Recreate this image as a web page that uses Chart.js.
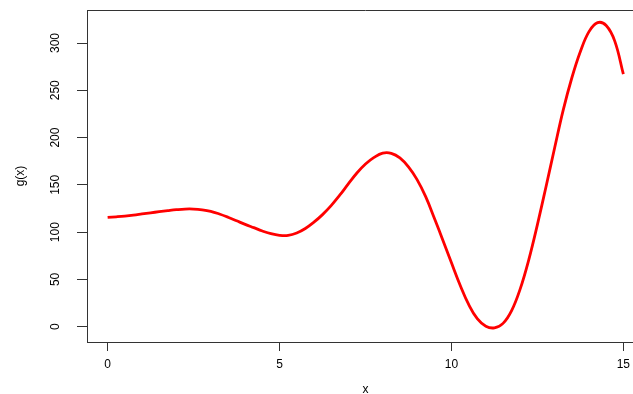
<!DOCTYPE html>
<html lang="en">
    <head>
        <meta charset="UTF-8">
        <title>g(x)</title>
        <script src="https://cdn.jsdelivr.net/npm/chart.js@4/dist/chart.umd.min.js"></script>
        <style>
            html, body { margin: 0; background: #fff; overflow: hidden; }
            #wrap { width: 633px; height: 394px; overflow: hidden; }
        </style>
    </head>
    <body>
        <div id="wrap"><canvas id="gChart" width="644" height="394"></canvas></div>

        <script>
            // values, every 0.25
            const xValues = [0, 0.25, 0.5, 0.75, 1, 1.25, 1.5, 1.75, 2, 2.25, 2.5, 2.75,
                             3, 3.25, 3.5, 3.75, 4, 4.25, 4.5, 4.75, 5, 5.25, 5.5, 5.75,
                             6, 6.25, 6.5, 6.75, 7, 7.25, 7.5, 7.75, 8, 8.25, 8.5, 8.75,
                             9, 9.25, 9.5, 9.75, 10, 10.25, 10.5, 10.75, 11, 11.25, 11.5, 11.75,
                             12, 12.25, 12.5, 12.75, 13, 13.25, 13.5, 13.75, 14, 14.25, 14.5, 14.75, 15];
            const gValues = [115.5, 116.2, 117, 118, 119.2, 120.4, 121.6, 122.7, 123.7, 124.4, 124.4, 123.6,
                             122, 119.2, 115.8, 112, 108.2, 104.7, 101.2, 98.3, 96.6, 96.5, 99, 103.8,
                             110.5, 118.5, 128, 139, 151, 162.5, 172, 179, 183.5, 183.3, 178.5, 169,
                             155.5, 137.5, 115, 91.5, 67.5, 44, 23.5, 8.5, 0.5, -1.2, 3.5, 17,
                             40, 71, 108, 148, 189, 229, 263, 291, 312, 321.5, 318.5, 302, 267];
            const xTicks = [0, 5, 10, 15];
            const yTicks = [0, 50, 100, 150, 200, 250, 300];

            const points = xValues.map((x, i) => ({x: x, y: gValues[i]}));
            const axisColor = "#333";
            const font = {family: "'Liberation Sans', Arial, sans-serif", size: 12};

            function noPadding(s) {
                s.paddingTop = 0;
                s.paddingBottom = 0;
                s.paddingLeft = 0;
                s.paddingRight = 0;
            }

            // R style box: top and right sides (left/bottom come from the axes)
            const boxPlugin = {
                id: "box",
                afterDraw(chart) {
                    const a = chart.chartArea;
                    const ctx = chart.ctx;
                    ctx.save();
                    ctx.strokeStyle = axisColor;
                    ctx.lineWidth = 1;
                    ctx.beginPath();
                    ctx.moveTo(a.left, Math.round(a.top) + 0.5);
                    ctx.lineTo(a.right, Math.round(a.top) + 0.5);
                    ctx.lineTo(a.right, a.bottom);
                    ctx.stroke();
                    ctx.restore();
                }
            };

            new Chart("gChart", {
                type: "line",
                data: {
                    datasets: [{
                        data: points,
                        borderColor: "#ff0000",
                        borderWidth: 2.8,
                        pointRadius: 0,
                        fill: false,
                        tension: 0.4
                    }]
                },
                options: {
                    responsive: false,
                    animation: false,
                    layout: {padding: {top: 10, right: 0, left: 0, bottom: 0}},
                    plugins: {legend: {display: false}, tooltip: {enabled: false}},
                    scales: {
                        x: {
                            type: "linear",
                            min: -0.6,
                            max: 15.6,
                            afterFit: s => { s.height = 52; noPadding(s); },
                            afterBuildTicks: s => { s.ticks = xTicks.map(v => ({value: v})); },
                            grid: {drawOnChartArea: false, drawTicks: true, tickLength: 9, color: axisColor},
                            border: {display: true, color: axisColor, width: 1},
                            ticks: {color: "#000", font: font, padding: 6, maxRotation: 0, minRotation: 0},
                            title: {display: true, text: "x", color: "#000", font: {family: font.family, size: 12, lineHeight: 0.73}, padding: 0}
                        },
                        y: {
                            min: -16.2,
                            max: 334.9,
                            afterFit: s => { s.width = 87; noPadding(s); },
                            afterBuildTicks: s => { s.ticks = yTicks.map(v => ({value: v})); },
                            grid: {drawOnChartArea: false, drawTicks: true, tickLength: 10, color: axisColor},
                            border: {display: true, color: axisColor, width: 1},
                            ticks: {color: "#000", font: font, padding: 11, minRotation: 90, maxRotation: 90, crossAlign: "center"},
                            title: {display: true, text: "g(x)", color: "#000", font: {family: font.family, size: 12, lineHeight: 1}, padding: {top: 15, bottom: 0}}
                        }
                    }
                },
                plugins: [boxPlugin]
            });
        </script>
    </body>
</html>
